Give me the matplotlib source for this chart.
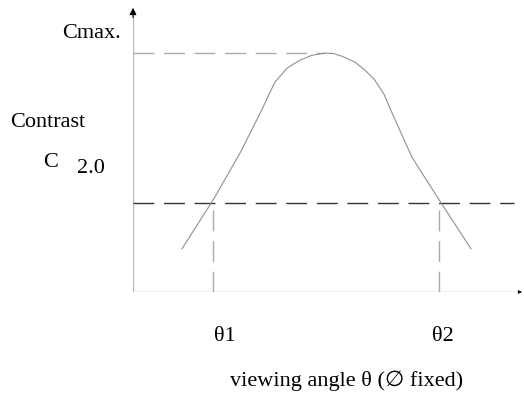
import matplotlib
matplotlib.use("Agg")
import matplotlib.pyplot as plt

plt.rcParams['font.family'] = ['Liberation Serif', 'DejaVu Sans']
plt.rcParams['lines.scale_dashes'] = False

# schematic contrast curve vs viewing angle (arbitrary units)
theta = [1.26, 2.06, 2.16, 2.75, 3.32, 3.50, 3.65, 3.96, 4.29, 4.60, 4.94,
         5.15, 5.37, 5.70, 5.96, 6.20, 6.45, 6.62, 7.17, 7.87, 8.69]
contrast = [0.97, 2.07, 2.22, 3.12, 4.11, 4.45, 4.72, 5.03, 5.21, 5.32,
            5.37, 5.36, 5.30, 5.17, 4.99, 4.78, 4.45, 4.10, 3.03, 2.07, 0.97]

c_max = 5.37
c_ref = 2.0
theta_max = 4.94
theta1 = 2.06
theta2 = 7.87
x_end = 10.0
y_top = 6.45

W, H = 524, 396
fig = plt.figure(figsize=(W / 100, H / 100), dpi=100)
ax = fig.add_axes([133 / W, (H - 292) / H, (522 - 133) / W, (292 - 5) / H])
ax.set_xlim(0, x_end)
ax.set_ylim(0, y_top)
ax.axis('off')

dash = (0, (15, 7))

# axes with arrows
ax.plot([0, 0], [0, y_top - 0.2], color='#bbbbbb', lw=1)
ax.plot([0, x_end - 0.1], [0, 0], color='#bbbbbb', lw=1)
ax.annotate('', xy=(0, y_top), xytext=(0, y_top - 0.35),
            arrowprops=dict(arrowstyle='-|>', color='black', lw=0.8,
                            mutation_scale=10), annotation_clip=False)
ax.annotate('', xy=(x_end, 0), xytext=(x_end - 0.12, 0),
            arrowprops=dict(arrowstyle='-|>', color='black', lw=0.6,
                            mutation_scale=5), annotation_clip=False)

# reference lines
ax.plot([0, theta_max], [c_max, c_max], color='#aaaaaa', lw=1, linestyle=dash)
ax.plot([0, x_end - 0.2], [c_ref, c_ref], color='#333333', lw=1, linestyle=dash)
for t in (theta1, theta2):
    ax.plot([t, t], [0, c_ref], color='#aaaaaa', lw=1, linestyle=dash)

# curve
ax.plot(theta, contrast, color='#909090', lw=0.8)

fs = 16
ax.text(-0.3, 5.82, 'Cmax.', ha='right', va='center', fontsize=fs)
ax.text(-3.17, 3.8, 'Contrast', ha='left', va='center', fontsize=fs)
ax.text(-2.3, 2.9, 'C', ha='left', va='center', fontsize=fs)
ax.text(-1.45, 2.78, '2.0', ha='left', va='center', fontsize=fs)
ax.text(theta1 + 0.3, -1.0, 'θ1', ha='center', va='center', fontsize=fs)
ax.text(theta2 + 0.1, -1.0, 'θ2', ha='center', va='center', fontsize=fs)
ax.text(5.5, -2.0, 'viewing angle θ (∅ fixed)', ha='center', va='center',
        fontsize=fs)

fig.savefig('out.png', dpi=100)
